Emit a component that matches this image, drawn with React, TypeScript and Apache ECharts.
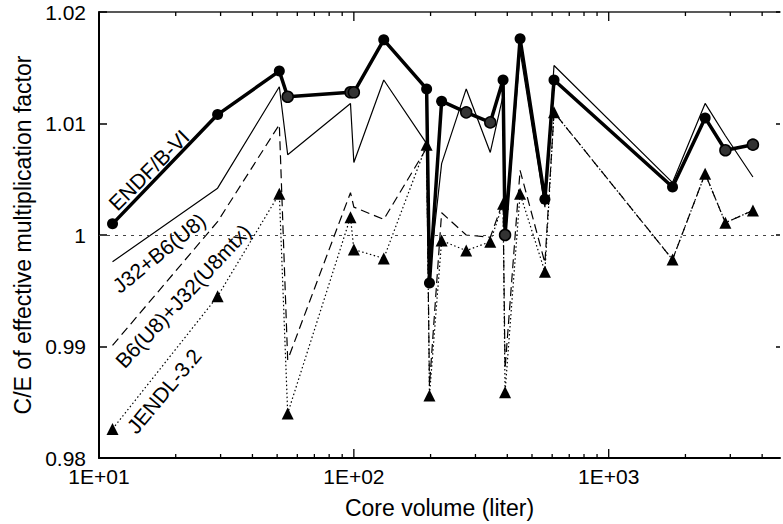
import React, { useEffect, useRef } from 'react';
import * as echarts from 'echarts';

// Core volume (liter) of each core
const coreVolume = [11.3, 29.2, 51, 55, 97, 100, 131, 193, 198, 221, 276, 343, 385, 392, 449, 562, 610, 1780, 2390, 2870, 3680];
// C/E values
const endfB6 = [1.001, 1.0108, 1.0147, 1.0124, 1.0128, 1.0128, 1.0175, 1.0131, 0.9957, 1.012, 1.011, 1.0101, 1.0139, 1.0, 1.0176, 1.0032, 1.0139, 1.0043, 1.0105, 1.0076, 1.0081];
const j32B6U8 = [0.9976, 1.0042, 1.0133, 1.0072, 1.0118, 1.0065, 1.0139, 1.0082, 0.9965, 1.0064, 1.0131, 1.0074, 1.0125, 0.9995, 1.0165, 1.0025, 1.0152, 1.0047, 1.0118, 1.0089, 1.0052];
const b6J32U8mtx = [0.9901, 1.0012, 1.0099, 0.9888, 1.0038, 1.0025, 1.0014, 1.0078, 0.9865, 1.002, 1.0, 0.9998, 1.003, 0.988, 1.0058, 0.9975, 1.011, 0.9978, 1.0055, 1.0011, 1.0022];
const jendl32 = [0.9826, 0.9945, 1.0037, 0.984, 1.0016, 0.9987, 0.9979, 1.0081, 0.9856, 0.9995, 0.9986, 0.9994, 1.0028, 0.9859, 1.0037, 0.9967, 1.011, 0.9978, 1.0055, 1.0011, 1.0022];

// Axis ticks
const xMajorTicks = [10, 100, 1000];
const xMinorTicks = [20, 30, 40, 50, 60, 70, 80, 90, 200, 300, 400, 500, 600, 700, 800, 900, 2000, 3000, 4000];
const Y_MIN = 0.98;
const Y_MAX = 1.02;
const Y_STEP = 0.01;
const X_MIN = 10;
const X_MAX = 4700;

// ENDF points drawn with the "hatched" marker
const hatchedIdx = [3, 4, 5, 10, 11, 13, 19, 20];

const FONT = '"Liberation Sans", Arial, Helvetica, sans-serif';

const pairs = (ys: number[]) => coreVolume.map((x, i) => [x, ys[i]]);

export default function App() {
  const ref = useRef<HTMLDivElement>(null);
  useEffect(() => {
    const chart = echarts.init(ref.current!, null, { renderer: 'svg' });
    const isMajor = (v: number) => {
      const e = Math.log10(v);
      return Math.abs(e - Math.round(e)) < 1e-6;
    };
    const option: any = {
      animation: false,
      backgroundColor: '#fff',
      grid: { left: 99, top: 12, right: 0, bottom: 65, containLabel: false },
      xAxis: [
        {
          type: 'log',
          logBase: 10,
          min: X_MIN,
          max: X_MAX,
          position: 'bottom',
          axisLine: { show: true, lineStyle: { color: '#000', width: 2 } },
          axisTick: { show: false },
          splitLine: { show: false },
          axisLabel: {
            fontSize: 21,
            lineHeight: 18,
            fontFamily: FONT,
            color: '#000',
            margin: 9,
            formatter: (v: number) => {
              if (!isMajor(v)) return '';
              return '1E+' + String(Math.round(Math.log10(v))).padStart(2, '0');
            },
          },
          name: 'Core volume (liter)',
          nameLocation: 'middle',
          nameGap: 38,
          nameTextStyle: { fontSize: 23, fontFamily: FONT, color: '#000' },
        },
        {
          type: 'log',
          logBase: 10,
          min: X_MIN,
          max: X_MAX,
          position: 'top',
          axisLine: { show: true, lineStyle: { color: '#222', width: 1.5 } },
          axisTick: { show: false },
          axisLabel: { show: false },
          splitLine: { show: false },
        },
      ],
      yAxis: [
        {
          type: 'value',
          min: Y_MIN,
          max: Y_MAX,
          interval: Y_STEP,
          position: 'left',
          axisLine: { show: true, lineStyle: { color: '#000', width: 2 } },
          axisTick: { show: true, inside: true, length: 8, lineStyle: { color: '#000', width: 1.5 } },
          splitLine: { show: false },
          axisLabel: {
            fontSize: 21,
            lineHeight: 17,
            fontFamily: FONT,
            color: '#000',
            margin: 13,
            formatter: (v: number) => String(parseFloat(v.toFixed(2))),
          },
          name: 'C/E of effective multiplication factor',
          nameLocation: 'middle',
          nameGap: 64,
          nameTextStyle: { fontSize: 23, fontFamily: FONT, color: '#000' },
        },
        {
          type: 'value',
          min: Y_MIN,
          max: Y_MAX,
          interval: Y_STEP,
          position: 'right',
          axisLine: { show: false },
          axisTick: { show: true, inside: true, length: 4, lineStyle: { color: '#000', width: 1.5 } },
          axisLabel: { show: false },
          splitLine: { show: false },
        },
      ],
      graphic: [
        { text: 'ENDF/B-VI', x: 149, y: 170, deg: 45 },
        { text: 'J32+B6(U8)', x: 159, y: 253, deg: 39 },
        { text: 'B6(U8)+J32(U8mtx)', x: 183, y: 296, deg: 47 },
        { text: 'JENDL-3.2', x: 164, y: 391, deg: 50 },
      ].map((l) => ({
        type: 'text',
        x: l.x,
        y: l.y,
        rotation: (l.deg * Math.PI) / 180,
        z: 10,
        style: {
          text: l.text,
          fontSize: 21,
          fontFamily: FONT,
          fill: '#000',
          align: 'center',
          verticalAlign: 'middle',
        },
      })),
      series: [
        {
          type: 'custom',
          name: 'ticks',
          silent: true,
          clip: false,
          z: 1,
          data: [...xMajorTicks, ...xMinorTicks].map((v) => [v, Y_MIN]),
          renderItem: (params: any, api: any) => {
            const v = api.value(0);
            const len = isMajor(v) ? 9 : 4;
            const pb = api.coord([v, Y_MIN]);
            const pt = api.coord([v, Y_MAX]);
            const st = { stroke: '#000', lineWidth: 1.3 };
            return {
              type: 'group',
              children: [
                { type: 'line', shape: { x1: pb[0], y1: pb[1], x2: pb[0], y2: pb[1] - len }, style: st },
                { type: 'line', shape: { x1: pt[0], y1: pt[1], x2: pt[0], y2: pt[1] + len }, style: st },
              ],
            };
          },
        },
        {
          type: 'line',
          name: 'JENDL-3.2',
          data: pairs(jendl32),
          symbol: 'triangle',
          symbolSize: 12,
          itemStyle: { color: '#000' },
          lineStyle: { color: '#000', width: 1.2, type: [1.5, 2.5] },
          z: 3,
        },
        {
          type: 'line',
          name: 'B6(U8)+J32(U8mtx)',
          data: pairs(b6J32U8mtx),
          symbol: 'none',
          lineStyle: { color: '#000', width: 1.2, type: [9, 5] },
          z: 3,
        },
        {
          type: 'line',
          name: 'J32+B6(U8)',
          data: pairs(j32B6U8),
          symbol: 'none',
          lineStyle: { color: '#000', width: 1.2 },
          z: 4,
        },
        {
          type: 'line',
          name: 'ENDF/B-VI',
          data: pairs(endfB6).map((p, i) =>
            hatchedIdx.includes(i)
              ? { value: p, itemStyle: { color: '#333', borderColor: '#000', borderWidth: 1.5 } }
              : { value: p }
          ),
          symbol: 'circle',
          symbolSize: 11,
          itemStyle: { color: '#000' },
          lineStyle: { color: '#000', width: 3.5 },
          z: 5,
          markLine: {
            silent: true,
            symbol: ['none', 'none'],
            label: { show: false },
            lineStyle: { color: '#444', width: 1, type: [3, 5] },
            data: [{ yAxis: 1 }],
          },
        },
      ],
    };
    chart.setOption(option);
    return () => chart.dispose();
  }, []);
  return (
    <div
      ref={ref}
      style={{ position: 'fixed', left: 0, top: 0, width: 783, height: 524, background: '#fff' }}
    />
  );
}
